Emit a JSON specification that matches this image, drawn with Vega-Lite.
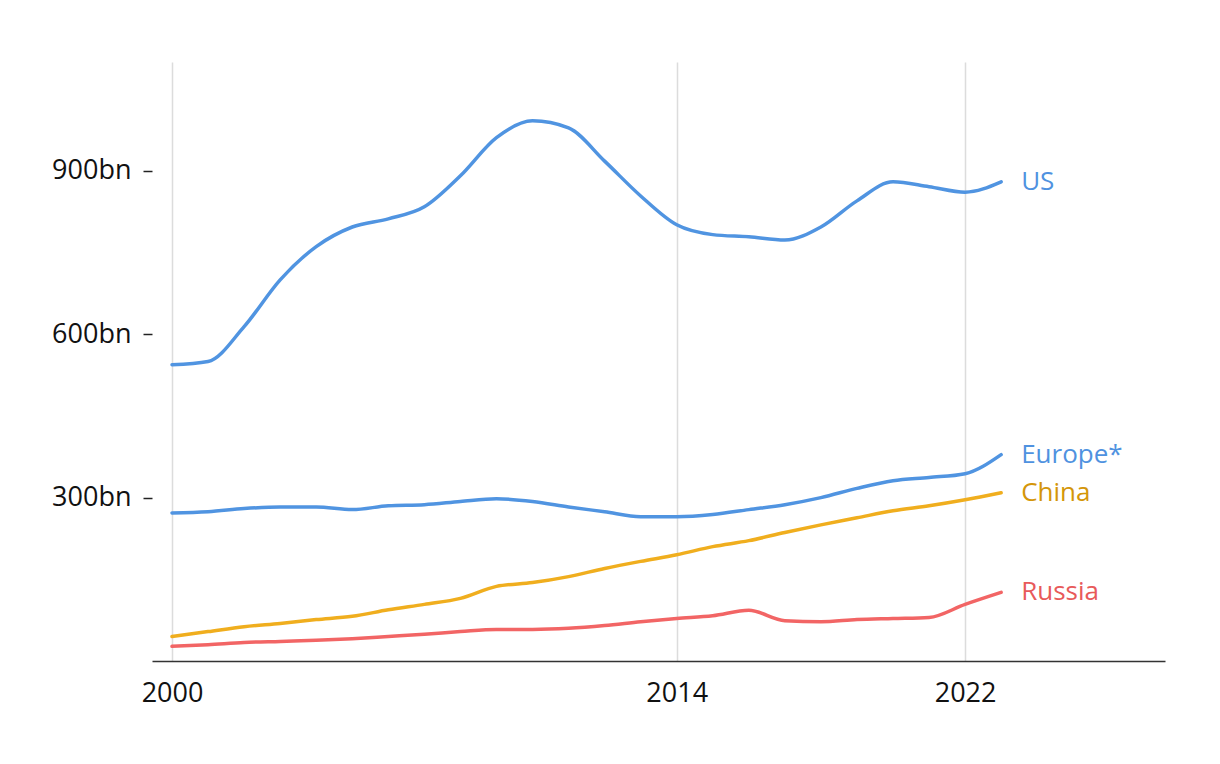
{
  "$schema": "https://vega.github.io/schema/vega-lite/v6.json",
  "autosize": "none",
  "width": 1013,
  "height": 599,
  "padding": {"left": 152, "top": 62, "right": 55, "bottom": 103},
  "background": "white",
  "config": {"view": {"stroke": null}, "font": "Open Sans"},
  "data": {"values": [
    {"year": 2000, "country": "US", "value": 544},
    {"year": 2001, "country": "US", "value": 550},
    {"year": 2002, "country": "US", "value": 614},
    {"year": 2003, "country": "US", "value": 700},
    {"year": 2004, "country": "US", "value": 761},
    {"year": 2005, "country": "US", "value": 797},
    {"year": 2006, "country": "US", "value": 812},
    {"year": 2007, "country": "US", "value": 834},
    {"year": 2008, "country": "US", "value": 891},
    {"year": 2009, "country": "US", "value": 961},
    {"year": 2010, "country": "US", "value": 992},
    {"year": 2011, "country": "US", "value": 979},
    {"year": 2012, "country": "US", "value": 918},
    {"year": 2013, "country": "US", "value": 854},
    {"year": 2014, "country": "US", "value": 801},
    {"year": 2015, "country": "US", "value": 783},
    {"year": 2016, "country": "US", "value": 779},
    {"year": 2017, "country": "US", "value": 773},
    {"year": 2018, "country": "US", "value": 797},
    {"year": 2019, "country": "US", "value": 845},
    {"year": 2020, "country": "US", "value": 880},
    {"year": 2021, "country": "US", "value": 871},
    {"year": 2022, "country": "US", "value": 861},
    {"year": 2023, "country": "US", "value": 880},
    {"year": 2000, "country": "Europe*", "value": 272},
    {"year": 2001, "country": "Europe*", "value": 274},
    {"year": 2002, "country": "Europe*", "value": 280},
    {"year": 2003, "country": "Europe*", "value": 283},
    {"year": 2004, "country": "Europe*", "value": 283},
    {"year": 2005, "country": "Europe*", "value": 278},
    {"year": 2006, "country": "Europe*", "value": 285},
    {"year": 2007, "country": "Europe*", "value": 287},
    {"year": 2008, "country": "Europe*", "value": 293},
    {"year": 2009, "country": "Europe*", "value": 298},
    {"year": 2010, "country": "Europe*", "value": 293},
    {"year": 2011, "country": "Europe*", "value": 283},
    {"year": 2012, "country": "Europe*", "value": 274},
    {"year": 2013, "country": "Europe*", "value": 265},
    {"year": 2014, "country": "Europe*", "value": 265},
    {"year": 2015, "country": "Europe*", "value": 269},
    {"year": 2016, "country": "Europe*", "value": 278},
    {"year": 2017, "country": "Europe*", "value": 287},
    {"year": 2018, "country": "Europe*", "value": 300},
    {"year": 2019, "country": "Europe*", "value": 317},
    {"year": 2020, "country": "Europe*", "value": 331},
    {"year": 2021, "country": "Europe*", "value": 337},
    {"year": 2022, "country": "Europe*", "value": 344},
    {"year": 2023, "country": "Europe*", "value": 379},
    {"year": 2000, "country": "China", "value": 45},
    {"year": 2001, "country": "China", "value": 54},
    {"year": 2002, "country": "China", "value": 63},
    {"year": 2003, "country": "China", "value": 69},
    {"year": 2004, "country": "China", "value": 76},
    {"year": 2005, "country": "China", "value": 82},
    {"year": 2006, "country": "China", "value": 94},
    {"year": 2007, "country": "China", "value": 104},
    {"year": 2008, "country": "China", "value": 115},
    {"year": 2009, "country": "China", "value": 137},
    {"year": 2010, "country": "China", "value": 144},
    {"year": 2011, "country": "China", "value": 155},
    {"year": 2012, "country": "China", "value": 170},
    {"year": 2013, "country": "China", "value": 183},
    {"year": 2014, "country": "China", "value": 195},
    {"year": 2015, "country": "China", "value": 210},
    {"year": 2016, "country": "China", "value": 221},
    {"year": 2017, "country": "China", "value": 236},
    {"year": 2018, "country": "China", "value": 250},
    {"year": 2019, "country": "China", "value": 263},
    {"year": 2020, "country": "China", "value": 276},
    {"year": 2021, "country": "China", "value": 285},
    {"year": 2022, "country": "China", "value": 296},
    {"year": 2023, "country": "China", "value": 309},
    {"year": 2000, "country": "Russia", "value": 27},
    {"year": 2001, "country": "Russia", "value": 30},
    {"year": 2002, "country": "Russia", "value": 34},
    {"year": 2003, "country": "Russia", "value": 36},
    {"year": 2004, "country": "Russia", "value": 38},
    {"year": 2005, "country": "Russia", "value": 41},
    {"year": 2006, "country": "Russia", "value": 45},
    {"year": 2007, "country": "Russia", "value": 49},
    {"year": 2008, "country": "Russia", "value": 54},
    {"year": 2009, "country": "Russia", "value": 58},
    {"year": 2010, "country": "Russia", "value": 58},
    {"year": 2011, "country": "Russia", "value": 60},
    {"year": 2012, "country": "Russia", "value": 65},
    {"year": 2013, "country": "Russia", "value": 72},
    {"year": 2014, "country": "Russia", "value": 78},
    {"year": 2015, "country": "Russia", "value": 83},
    {"year": 2016, "country": "Russia", "value": 93},
    {"year": 2017, "country": "Russia", "value": 74},
    {"year": 2018, "country": "Russia", "value": 72},
    {"year": 2019, "country": "Russia", "value": 76},
    {"year": 2020, "country": "Russia", "value": 78},
    {"year": 2021, "country": "Russia", "value": 80},
    {"year": 2022, "country": "Russia", "value": 104},
    {"year": 2023, "country": "Russia", "value": 126}
  ]},
  "encoding": {
    "x": {
      "field": "year", "type": "quantitative",
      "scale": {"domain": [1999.445, 2027.545], "nice": false, "zero": false},
      "axis": {
        "title": null, "values": [2000, 2014, 2022], "format": "d",
        "grid": true, "gridColor": "#dcdcdc", "gridWidth": 1.5,
        "ticks": false, "domain": true, "domainColor": "#333333", "domainWidth": 1.5,
        "labelFontSize": 27, "labelColor": "#111111", "labelPadding": 19,
        "labelFlush": false
      }
    },
    "y": {
      "field": "value", "type": "quantitative",
      "scale": {"domain": [0, 1100], "nice": false},
      "axis": {
        "title": null, "values": [300, 600, 900],
        "labelExpr": "datum.value + 'bn'",
        "grid": false, "domain": false,
        "ticks": true, "tickSize": 9, "tickColor": "#222222", "tickWidth": 1.5,
        "labelFontSize": 27, "labelColor": "#111111", "labelPadding": 12
      }
    }
  },
  "layer": [
    {
      "mark": {"type": "line", "interpolate": "monotone", "strokeWidth": 3.5, "strokeCap": "round"},
      "encoding": {
        "detail": {"field": "country"},
        "color": {
          "field": "country", "type": "nominal",
          "scale": {"domain": ["US", "Europe*", "China", "Russia"], "range": ["#5094E1", "#5094E1", "#F0AE1E", "#F26565"]},
          "legend": null
        }
      }
    },
    {
      "transform": [{"filter": "datum.year == 2023"}],
      "mark": {"type": "text", "align": "left", "baseline": "middle", "dx": 20, "fontSize": 26},
      "encoding": {
        "text": {"field": "country"},
        "color": {
          "field": "country", "type": "nominal",
          "scale": {"domain": ["US", "Europe*", "China", "Russia"], "range": ["#4F92E0", "#4F92E0", "#D4960A", "#E85A5A"]},
          "legend": null
        }
      }
    }
  ],
  "resolve": {"scale": {"color": "independent"}}
}
